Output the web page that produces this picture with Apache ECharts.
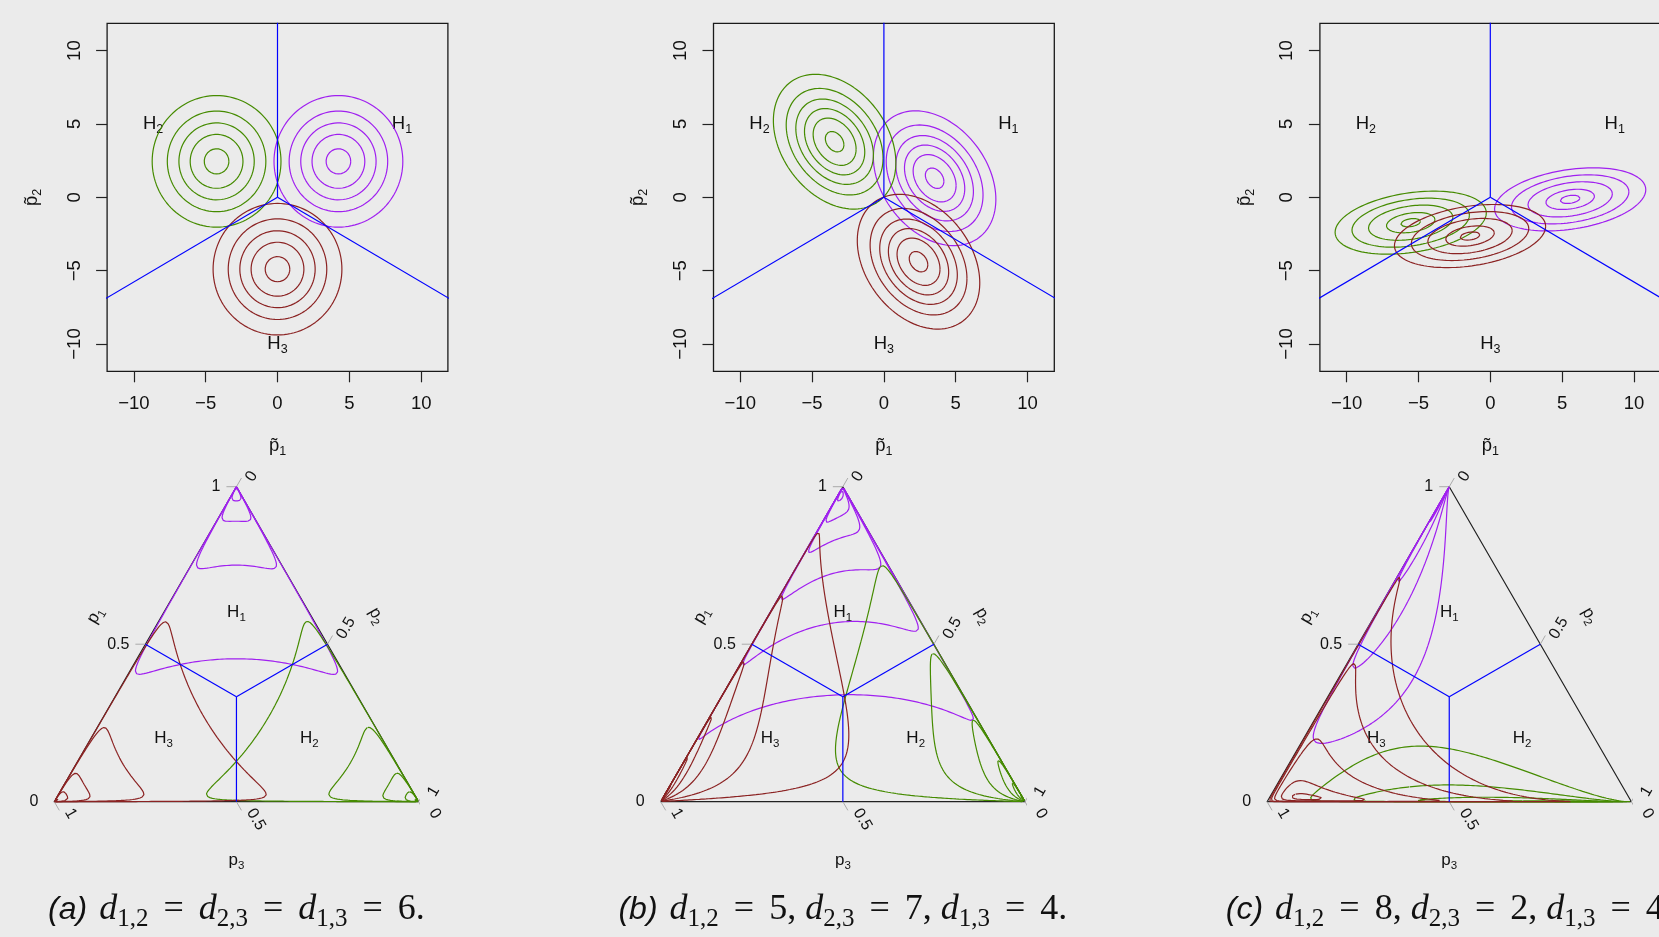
<!DOCTYPE html>
<html>
<head>
<meta charset="utf-8">
<script src="https://cdn.jsdelivr.net/npm/echarts@6/dist/echarts.min.js"></script>
<style>
  html, body { margin: 0; padding: 0; background: #ebebeb; }
  #chart { width: 1659px; height: 937px; }
</style>
</head>
<body>
<div id="chart"></div>
<script>
// class means in the (p~1, p~2) plane, order H1 H2 H3
const meansA = [[4.24, 2.45], [-4.24, 2.45], [0, -4.9]];
const meansB = [[3.53, 1.3], [-3.43, 3.79], [2.41, -4.39]];
const meansC = [[5.56, -0.14], [-5.54, -1.73], [-1.41, -2.64]];
// shared covariance of each panel: [sxx, sxy, syy]
const covA = [6, 0, 6];
const covB = [4.98, -1.68, 5.78];
const covC = [5.99, 0.75, 1];
// contour radii (mahalanobis units), outer to inner
const radiiA = [1.83, 1.40, 1.07, 0.75, 0.35];
const radiiB = [1.91, 1.51, 1.21, 0.94, 0.67, 0.29];
const radiiC = [2.15, 1.67, 1.2, 0.69, 0.28];
// decision boundaries, ray directions in degrees
const boundaryAngles = [90, 210, 330];
const axisTicks = [-10, -5, 0, 5, 10];
const ternTicks = [0, 0.5, 1];
// label spots: top plots in (p~1, p~2), ternary in (p1, p2, p3)
const topLabelPos = [[8.66, 5], [-8.66, 5], [0, -10]];
const ternLabelPos = [[0.6, 0.2, 0.2], [0.2, 0.6, 0.2], [0.2, 0.2, 0.6]];
const captionLetters = ['a', 'b', 'c'];
const captionValues = [['6'], ['5', '7', '4'], ['8', '2', '4']];

const FONT = '"Liberation Sans", Arial, sans-serif';
const SERIF = '"Liberation Serif", "DejaVu Serif", serif';
const classColors = ['#A020F0', '#458B00', '#8B2323'];
const BLUE = '#0000FF';
const DX = 606.4;
const TW = 364.3, TH = 315;

const chart = echarts.init(document.getElementById('chart'));

const K = Math.sqrt(2 / 3), C30 = Math.cos(Math.PI / 6);
// inverse isometric log-ratio: plane -> simplex
function toSimplex(x, y) {
  const c = [K * (x * C30 + y * 0.5), K * (-x * C30 + y * 0.5), -K * y];
  const m = Math.max(c[0], c[1], c[2]);
  const e = c.map(v => Math.exp(v - m));
  const s = e[0] + e[1] + e[2];
  return e.map(v => v / s);
}
function ternXY(p) { return [p[1] + p[0] / 2, p[0]]; }

function ellipse(mu, cov, r, n) {
  const l11 = Math.sqrt(cov[0]), l21 = cov[1] / l11, l22 = Math.sqrt(cov[2] - l21 * l21);
  const pts = [];
  for (let j = 0; j <= n; j++) {
    const t = 2 * Math.PI * j / n;
    const a = r * Math.cos(t), b = r * Math.sin(t);
    pts.push([mu[0] + l11 * a, mu[1] + l21 * a + l22 * b]);
  }
  return pts;
}

const panels = [
  { means: meansA, cov: covA, radii: radiiA },
  { means: meansB, cov: covB, radii: radiiB },
  { means: meansC, cov: covC, radii: radiiC }
];

const minus = v => String(v).replace('-', '\u2212');
const subRich = (size, subSize) => ({
  m: { fontSize: size, fontFamily: FONT, color: '#111', lineHeight: size * 1.35 },
  s: { fontSize: subSize, fontFamily: FONT, color: '#111', lineHeight: subSize, verticalAlign: 'bottom' }
});

const grids = [], xAxes = [], yAxes = [], series = [];
function line(ax, data, color, width, clip, z) {
  series.push({
    type: 'line', xAxisIndex: ax, yAxisIndex: ax, data: data,
    symbol: 'none', showSymbol: false, silent: true, animation: false,
    clip: clip, z: z || 2,
    lineStyle: { color: color, width: width }
  });
}

// top plots
panels.forEach((pn, i) => {
  grids.push({
    left: 107.1 + DX * i, top: 23.3, width: 340.8, height: 348,
    show: true, borderColor: '#1a1a1a', borderWidth: 1.3, backgroundColor: 'transparent',
    outerBoundsMode: 'none'
  });
  const tick = { show: true, inside: false, length: 11, customValues: axisTicks, lineStyle: { color: '#222', width: 1.2 } };
  xAxes.push({
    gridIndex: i, type: 'value', min: -11.86, max: 11.86, position: 'bottom',
    axisLine: { show: false, onZero: false }, splitLine: { show: false }, axisTick: tick,
    axisLabel: { customValues: axisTicks, formatter: minus, margin: 23, fontSize: 18.5, color: '#111', fontFamily: FONT },
    name: '{m|p\u0303}{s|1}', nameLocation: 'middle', nameGap: 62,
    nameTextStyle: { rich: subRich(18.5, 12.5) }
  });
  yAxes.push({
    gridIndex: i, type: 'value', min: -11.86, max: 11.86, position: 'left',
    axisLine: { show: false, onZero: false }, splitLine: { show: false }, axisTick: tick,
    axisLabel: { customValues: axisTicks, formatter: minus, rotate: 90, margin: 23, fontSize: 18.5, color: '#111', fontFamily: FONT },
    name: '{m|p\u0303}{s|2}', nameLocation: 'middle', nameGap: 63, nameRotate: 90,
    nameTextStyle: { rich: subRich(18.5, 12.5) }
  });
  pn.means.forEach((mu, k) => {
    pn.radii.forEach(r => line(i, ellipse(mu, pn.cov, r, 240), classColors[k], 1.2, true));
  });
  boundaryAngles.forEach(a => {
    const t = a * Math.PI / 180;
    line(i, [[0, 0], [40 * Math.cos(t), 40 * Math.sin(t)]], BLUE, 1.2, true, 3);
  });
});

// ternary plots
panels.forEach((pn, i) => {
  const ax = 3 + i;
  grids.push({ left: 54.3 + DX * i, top: 486.7, width: TW, height: TH, show: false, outerBoundsMode: 'none' });
  xAxes.push({ gridIndex: ax, type: 'value', min: 0, max: 1, show: false });
  yAxes.push({ gridIndex: ax, type: 'value', min: 0, max: 1, show: false });
  line(ax, [ternXY([1, 0, 0]), ternXY([0, 1, 0]), ternXY([0, 0, 1]), ternXY([1, 0, 0])], '#222', 1.2, false, 1);
  ternTicks.forEach(v => {
    const a = ternXY([v, 0, 1 - v]);
    line(ax, [a, [a[0] - 10 / TW, a[1]]], '#aaaaaa', 1, false, 1);
    const b = ternXY([1 - v, v, 0]);
    line(ax, [b, [b[0] + 5 / TW, b[1] + 8.66 / TH]], '#aaaaaa', 1, false, 1);
    const c = ternXY([0, 1 - v, v]);
    line(ax, [c, [c[0] + 5 / TW, c[1] - 8.66 / TH]], '#aaaaaa', 1, false, 1);
  });
  pn.means.forEach((mu, k) => {
    pn.radii.forEach(r => {
      const pts = ellipse(mu, pn.cov, r, 1600).map(q => ternXY(toSimplex(q[0], q[1])));
      line(ax, pts, classColors[k], 1.2, false, 2);
    });
  });
  boundaryAngles.forEach(a => {
    const t = a * Math.PI / 180;
    const ends = [0, 60].map(d => ternXY(toSimplex(d * Math.cos(t), d * Math.sin(t))));
    line(ax, ends, BLUE, 1.2, false, 3);
  });
});

chart.setOption({
  backgroundColor: '#ebebeb',
  animation: false,
  grid: grids, xAxis: xAxes, yAxis: yAxes, series: series
});

// text annotations placed through the grids' own scales
const graphics = [];
const px = (g, pt) => chart.convertToPixel({ gridIndex: g }, pt);
function txt(x, y, text, opt) {
  graphics.push({
    type: 'text', x: x, y: y, rotation: (opt.rot || 0) * Math.PI / 180, silent: true,
    style: Object.assign({
      text: text, fill: '#111', fontFamily: FONT, fontSize: opt.size || 16,
      align: opt.align || 'center', verticalAlign: opt.valign || 'middle'
    }, opt.rich ? { rich: opt.rich } : {})
  });
}

const capRich = {
  lab: { fontFamily: FONT, fontStyle: 'italic', fontSize: 32, color: '#444', lineHeight: 44, padding: [0, 12, 0, 0] },
  d: { fontFamily: SERIF, fontStyle: 'italic', fontSize: 36, color: '#1a1a1a', lineHeight: 44 },
  s: { fontFamily: SERIF, fontSize: 25, color: '#1a1a1a', lineHeight: 25, verticalAlign: 'bottom' },
  e: { fontFamily: SERIF, fontSize: 36, color: '#1a1a1a', lineHeight: 44, padding: [0, 15, 0, 15] },
  t: { fontFamily: SERIF, fontSize: 36, color: '#1a1a1a', lineHeight: 44 }
};

panels.forEach((pn, i) => {
  topLabelPos.forEach((p, k) => {
    const q = px(i, p);
    txt(q[0], q[1], '{m|H}{s|' + (k + 1) + '}', { rich: subRich(18.5, 12.5) });
  });
  const g = 3 + i;
  ternLabelPos.forEach((p, k) => {
    const q = px(g, ternXY(p));
    txt(q[0], q[1], '{m|H}{s|' + (k + 1) + '}', { rich: subRich(17, 11.5) });
  });
  ternTicks.forEach(v => {
    const lbl = String(v);
    const a = px(g, ternXY([v, 0, 1 - v]));
    txt(a[0] - 16, a[1], lbl, { size: 16, align: 'right' });
    const b = px(g, ternXY([1 - v, v, 0]));
    txt(b[0] + 0.5 * 12, b[1] - 0.866 * 12, lbl, { size: 16, align: 'left', valign: 'top', rot: 60 });
    const c = px(g, ternXY([0, 1 - v, v]));
    txt(c[0] + 0.5 * 14, c[1] + 0.866 * 14, lbl, { size: 16, align: 'left', valign: 'bottom', rot: -60 });
  });
  const m1 = px(g, ternXY([0.5, 0, 0.5]));
  txt(m1[0] - 0.866 * 58, m1[1] - 0.5 * 58, '{m|p}{s|1}', { rich: subRich(17, 11.5), rot: 60 });
  const m2 = px(g, ternXY([0.5, 0.5, 0]));
  txt(m2[0] + 0.866 * 57, m2[1] - 0.5 * 57, '{m|p}{s|2}', { rich: subRich(17, 11.5), rot: -60 });
  const m3 = px(g, ternXY([0, 0.5, 0.5]));
  txt(m3[0], m3[1] + 59, '{m|p}{s|3}', { rich: subRich(17, 11.5) });

  // caption
  const vals = captionValues[i];
  let cap = '{lab|(' + captionLetters[i] + ')}';
  if (vals.length === 1) {
    cap += '{d|d}{s|1,2}{e|=}{d|d}{s|2,3}{e|=}{d|d}{s|1,3}{e|=}{t|' + vals[0] + '.}';
  } else {
    cap += '{d|d}{s|1,2}{e|=}{t|' + vals[0] + ', }{d|d}{s|2,3}{e|=}{t|' + vals[1] + ', }{d|d}{s|1,3}{e|=}{t|' + vals[2] + '.}';
  }
  txt(m3[0], 910, cap, { rich: capRich });
});

chart.setOption({ graphic: graphics });
</script>
</body>
</html>
